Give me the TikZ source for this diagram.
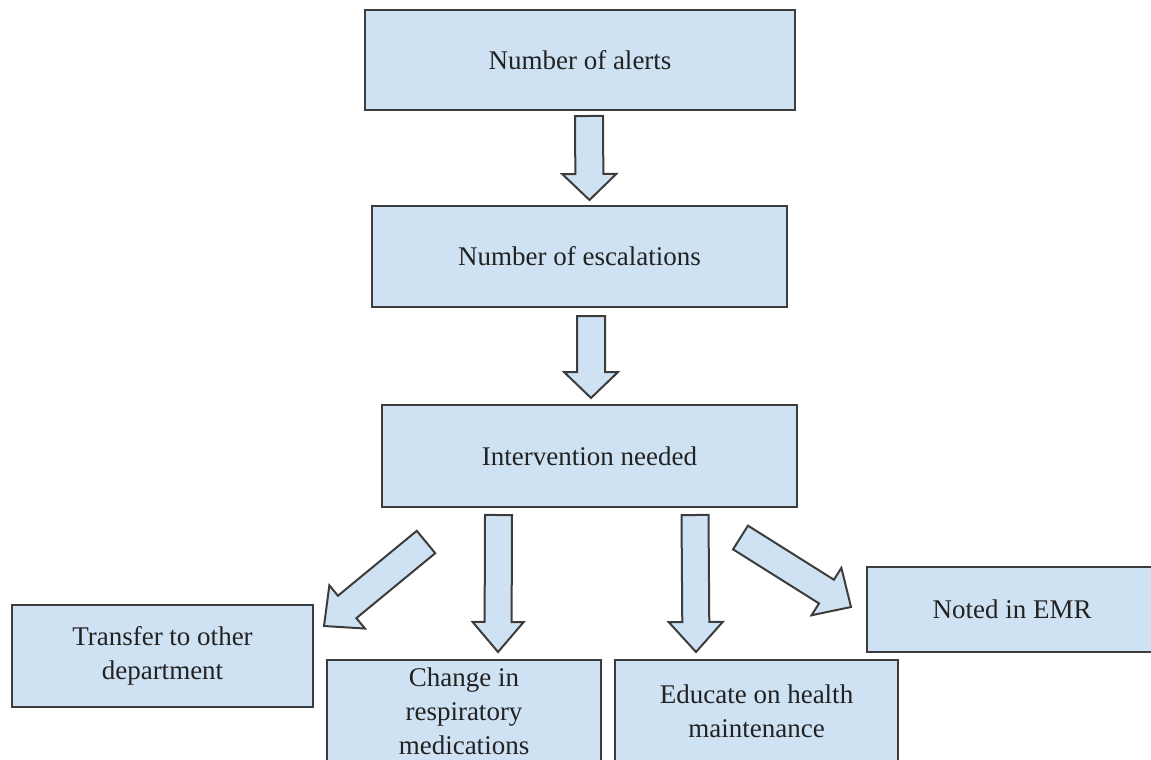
\documentclass[tikz,border=0pt]{standalone}
\usepackage{fontspec}
\setmainfont{Liberation Serif}
\usetikzlibrary{calc}
\definecolor{boxfill}{HTML}{CFE2F3}
\definecolor{boxline}{HTML}{3C3C3C}
\definecolor{txt}{HTML}{222222}
\tikzset{
  box/.style={draw=boxline, fill=boxfill, line width=2pt, inner sep=0pt, align=center,
    text=txt, font=\fontsize{27}{34}\selectfont},
  barrow/.style={draw=boxline, fill=boxfill, line width=2pt, line join=miter}
}
\newcommand\blockarrow[5]{%
  \coordinate (ba-h) at ($(#2)!#3!(#1)$);
  \draw[barrow] ($(#1)!#4!90:(#2)$) -- ($(ba-h)!#4!90:(#2)$) -- ($(ba-h)!#5!90:(#2)$) -- (#2)
    -- ($(ba-h)!#5!-90:(#2)$) -- ($(ba-h)!#4!-90:(#2)$) -- ($(#1)!#4!-90:(#2)$) -- cycle;
}
\begin{document}
\begin{tikzpicture}[x=1pt,y=-1pt]
\useasboundingbox (0,0) rectangle (1151,760);
\node[box, minimum width=430pt, minimum height=100pt] (b1) at (580,60) {Number of alerts};
\node[box, minimum width=415pt, minimum height=101pt] (b2) at (579.5,256.5) {Number of escalations};
\node[box, minimum width=415pt, minimum height=102pt] (b3) at (589.5,456) {Intervention needed};
\node[box, minimum width=301pt, minimum height=102pt] (b4) at (162.5,656) {Transfer to other\\department};
\node[box, minimum width=274pt, minimum height=102pt] (b5) at (464,711) {Change in\\respiratory\\medications};
\node[box, minimum width=283pt, minimum height=102pt] (b6) at (756.5,711) {Educate on health\\maintenance};
\node[box, minimum width=290pt, minimum height=85pt] (b7) at (1012,609.5) {Noted in EMR};

\coordinate (a1s) at ($(b1.south)+(9,5)$);
\coordinate (a1e) at ($(b2.north)+(10,-5)$);
\coordinate (a2s) at ($(b2.south)+(11.5,8)$);
\coordinate (a2e) at ($(b3.north)+(1.5,-6)$);
\coordinate (a3s) at ($(b3.south)+(-91,7)$);
\coordinate (a3e) at ($(b5.north)+(34,-7)$);
\coordinate (a4s) at ($(b3.south)+(105.5,7)$);
\coordinate (a4e) at ($(b6.north)+(-60.5,-7)$);
\coordinate (a5s) at ($(b3.south west)+(45,34)$);
\coordinate (a5e) at ($(b4.north east)+(10,22)$);
\coordinate (a6s) at ($(b3.south east)+(-57.5,29.5)$);
\coordinate (a6e) at ($(b7.west)+(-15,-2.5)$);

\blockarrow{a1s}{a1e}{26pt}{14pt}{27pt}
\blockarrow{a2s}{a2e}{26pt}{14pt}{27pt}
\blockarrow{a3s}{a3e}{30pt}{13.5pt}{25.5pt}
\blockarrow{a4s}{a4e}{30pt}{13.5pt}{27pt}
\blockarrow{a5s}{a5e}{30pt}{14.5pt}{28pt}
\blockarrow{a6s}{a6e}{29pt}{14pt}{28pt}
\end{tikzpicture}
\end{document}
